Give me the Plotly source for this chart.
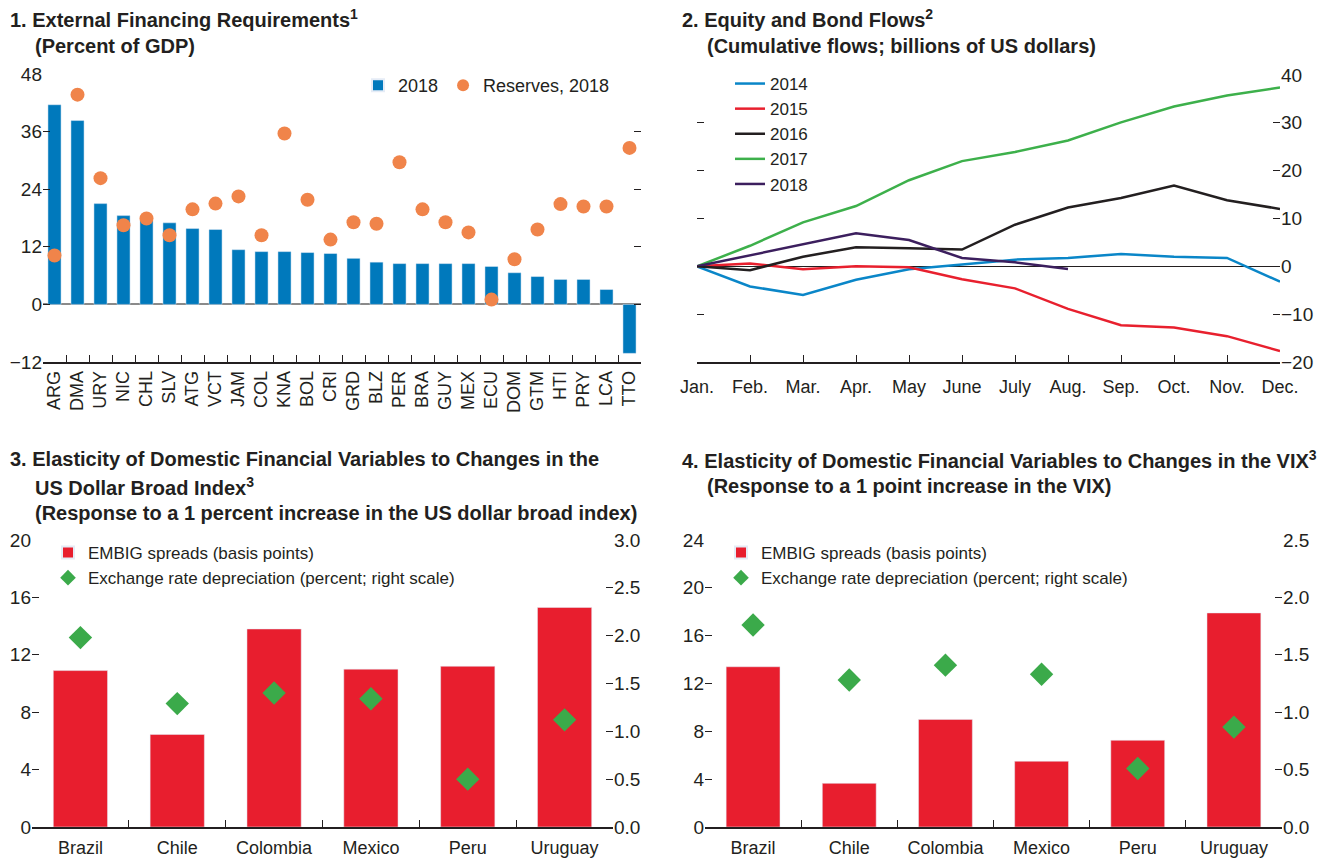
import plotly.graph_objects as go

W, H = 1325, 859
FONT = "Liberation Sans, Arial, sans-serif"
INK = "#231F20"

# panel 1: external financing requirements, percent of GDP
countries = ["ARG", "DMA", "URY", "NIC", "CHL", "SLV", "ATG", "VCT", "JAM", "COL", "KNA", "BOL", "CRI",
             "GRD", "BLZ", "PER", "BRA", "GUY", "MEX", "ECU", "DOM", "GTM", "HTI", "PRY", "LCA", "TTO"]
efr_2018 = [41.6, 38.3, 21.0, 18.5, 17.5, 17.0, 15.8, 15.6, 11.4, 11.0, 11.0, 10.8, 10.6,
            9.6, 8.8, 8.5, 8.5, 8.5, 8.5, 7.9, 6.6, 5.8, 5.2, 5.2, 3.1, -10.2]
reserves_2018 = [10.2, 43.7, 26.3, 16.5, 17.9, 14.4, 19.8, 21.0, 22.5, 14.4, 35.6, 21.8, 13.5,
                 17.1, 16.8, 29.6, 19.8, 17.1, 15.0, 1.0, 9.4, 15.6, 20.9, 20.4, 20.4, 32.6]

# panel 2: cumulative equity and bond flows, billions of US dollars
months = ["Jan.", "Feb.", "Mar.", "Apr.", "May", "June", "July", "Aug.", "Sep.", "Oct.", "Nov.", "Dec."]
flows_2014 = [0, -4.2, -6.0, -2.8, -0.6, 0.35, 1.4, 1.75, 2.6, 2.0, 1.75, -3.2]
flows_2015 = [0, 0.6, -0.6, 0, -0.2, -2.7, -4.6, -8.9, -12.3, -12.8, -14.6, -17.7]
flows_2016 = [0, -0.8, 2.0, 4.0, 3.8, 3.5, 8.7, 12.3, 14.3, 16.9, 13.8, 12.0]
flows_2017 = [0, 4.3, 9.2, 12.6, 18.0, 22.0, 23.9, 26.3, 30.1, 33.4, 35.7, 37.4]
flows_2018 = [0, 2.3, 4.7, 6.9, 5.5, 1.75, 0.85, -0.55]

# panels 3 and 4: elasticities
elas_countries = ["Brazil", "Chile", "Colombia", "Mexico", "Peru", "Uruguay"]
usd_embig = [10.9, 6.45, 13.8, 11.0, 11.2, 15.3]
usd_fx = [1.98, 1.29, 1.40, 1.34, 0.50, 1.12]
vix_embig = [13.4, 3.65, 9.0, 5.5, 7.25, 17.9]
vix_fx = [1.76, 1.28, 1.41, 1.33, 0.51, 0.87]

BLUE = "#0079BC"
ORANGE = "#F0844A"
RED = "#E81E2E"
GREEN = "#3BAA4A"
year_colors = {"2014": "#0A86C8", "2015": "#E8202E", "2016": "#231F20", "2017": "#3DB04B", "2018": "#3C1F5E"}


def xd(a, b):
    return [a / W, b / W]


def yd(top, bottom):
    return [1 - bottom / H, 1 - top / H]


fig = go.Figure()

## panel 1
fig.add_trace(go.Bar(x=countries, y=efr_2018, name="2018", marker_color=BLUE, width=0.57,
                     xaxis="x", yaxis="y", legend="legend"))
fig.add_trace(go.Scatter(x=countries, y=reserves_2018, name="Reserves, 2018", mode="markers",
                         marker=dict(color=ORANGE, size=14), xaxis="x", yaxis="y", legend="legend"))

## panel 2
for yr, vals in [("2014", flows_2014), ("2015", flows_2015), ("2016", flows_2016),
                 ("2017", flows_2017), ("2018", flows_2018)]:
    fig.add_trace(go.Scatter(x=months[:len(vals)], y=vals, name=yr, mode="lines",
                             line=dict(color=year_colors[yr], width=2.5),
                             xaxis="x2", yaxis="y2", legend="legend2"))

## panels 3 and 4
for embig, fx, xa, ya, ya2, lg in [(usd_embig, usd_fx, "x3", "y3", "y4", "legend3"),
                                    (vix_embig, vix_fx, "x4", "y5", "y6", "legend4")]:
    fig.add_trace(go.Bar(x=elas_countries, y=embig, name="EMBIG spreads (basis points)",
                         marker_color=RED, width=0.56, xaxis=xa, yaxis=ya, legend=lg))
    fig.add_trace(go.Scatter(x=elas_countries, y=fx, name="Exchange rate depreciation (percent; right scale)",
                             mode="markers", marker=dict(color=GREEN, size=18, symbol="diamond"),
                             xaxis=xa, yaxis=ya2, legend=lg))

tickfont = dict(family=FONT, size=18, color=INK)
base_y = dict(showgrid=False, zeroline=False, showline=False, ticks="inside", ticklen=7,
              tickcolor=INK, tickwidth=1, tickfont=dict(tickfont, size=19), automargin=False)
base_x = dict(showgrid=False, zeroline=False, showline=True, linecolor=INK, linewidth=1.5,
              ticks="inside", ticklen=7, tickcolor=INK, tickwidth=1.2, tickfont=tickfont, automargin=False)

fig.update_layout(
    width=W, height=H, margin=dict(l=0, r=0, t=0, b=0, autoexpand=False),
    paper_bgcolor="white", plot_bgcolor="rgba(0,0,0,0)",
    font=dict(family=FONT, size=18, color=INK),
    xaxis=dict(base_x, domain=xd(43, 641), anchor="y", type="category", range=[-0.5, 25.5],
               tickson="boundaries", tickmode="linear", tick0=0, dtick=1, tickangle=-90),
    yaxis=dict(base_y, domain=yd(74, 362), anchor="x", range=[-12, 48], tickvals=[-12, 0, 12, 24, 36, 48],
               mirror="ticks", zeroline=True, zerolinecolor="#8A8A8A", zerolinewidth=2),
    xaxis2=dict(base_x, domain=xd(697, 1280), anchor="y2", type="category", range=[0, 11],
                ticklabelstandoff=8),
    yaxis2=dict(base_y, domain=yd(75, 362), anchor="x2", side="right", range=[-20, 40],
                tickvals=[-20, -10, 0, 10, 20, 30, 40], mirror="ticks",
                zeroline=True, zerolinecolor=INK, zerolinewidth=1),
    xaxis3=dict(base_x, domain=xd(32, 613), anchor="y3", type="category", range=[-0.5, 5.5],
                tickson="boundaries", ticklabelstandoff=4),
    yaxis3=dict(base_y, domain=yd(540, 827), anchor="x3", range=[0, 20], tickvals=[0, 4, 8, 12, 16, 20]),
    yaxis4=dict(base_y, domain=yd(540, 827), anchor="x3", overlaying="y3", side="right",
                range=[0, 3], tickvals=[0, 0.5, 1, 1.5, 2, 2.5, 3], tickformat=".1f"),
    xaxis4=dict(base_x, domain=xd(705, 1282), anchor="y5", type="category", range=[-0.5, 5.5],
                tickson="boundaries", ticklabelstandoff=4),
    yaxis5=dict(base_y, domain=yd(540, 827), anchor="x4", range=[0, 24], tickvals=[0, 4, 8, 12, 16, 20, 24]),
    yaxis6=dict(base_y, domain=yd(540, 827), anchor="x4", overlaying="y5", side="right",
                range=[0, 2.5], tickvals=[0, 0.5, 1, 1.5, 2, 2.5], tickformat=".1f"),
    legend=dict(orientation="h", x=358 / W, y=1 - 67 / H, xanchor="left", yanchor="top",
                bgcolor="rgba(0,0,0,0)", font=dict(size=18), itemsizing="constant"),
    legend2=dict(x=730 / W, y=1 - 66 / H, xanchor="left", yanchor="top", bgcolor="rgba(0,0,0,0)",
                 font=dict(size=17), tracegroupgap=0),
    legend3=dict(x=48 / W, y=1 - 535 / H, xanchor="left", yanchor="top", bgcolor="rgba(0,0,0,0)",
                 font=dict(size=17), itemsizing="constant"),
    legend4=dict(x=721 / W, y=1 - 535 / H, xanchor="left", yanchor="top", bgcolor="rgba(0,0,0,0)",
                 font=dict(size=17), itemsizing="constant"),
)

## titles
titles = [
    (8, 19, "1. External Financing Requirements<sup>1</sup>"),
    (33, 46, "(Percent of GDP)"),
    (680, 19, "2. Equity and Bond Flows<sup>2</sup>"),
    (705, 46, "(Cumulative flows; billions of US dollars)"),
    (8, 459, "3. Elasticity of Domestic Financial Variables to Changes in the"),
    (33, 486, "US Dollar Broad Index<sup>3</sup>"),
    (33, 513, "(Response to a 1 percent increase in the US dollar broad index)"),
    (680, 459, "4. Elasticity of Domestic Financial Variables to Changes in the VIX<sup>3</sup>"),
    (705, 486, "(Response to a 1 point increase in the VIX)"),
]
for px, py, txt in titles:
    fig.add_annotation(x=px / W, y=1 - py / H, xref="paper", yref="paper", xanchor="left", yanchor="middle",
                       text="<b>" + txt + "</b>", showarrow=False,
                       font=dict(family=FONT, size=20, color=INK))

fig.write_html("out.html", config={"displayModeBar": False},
               post_script="document.body.style.margin='0px';")
